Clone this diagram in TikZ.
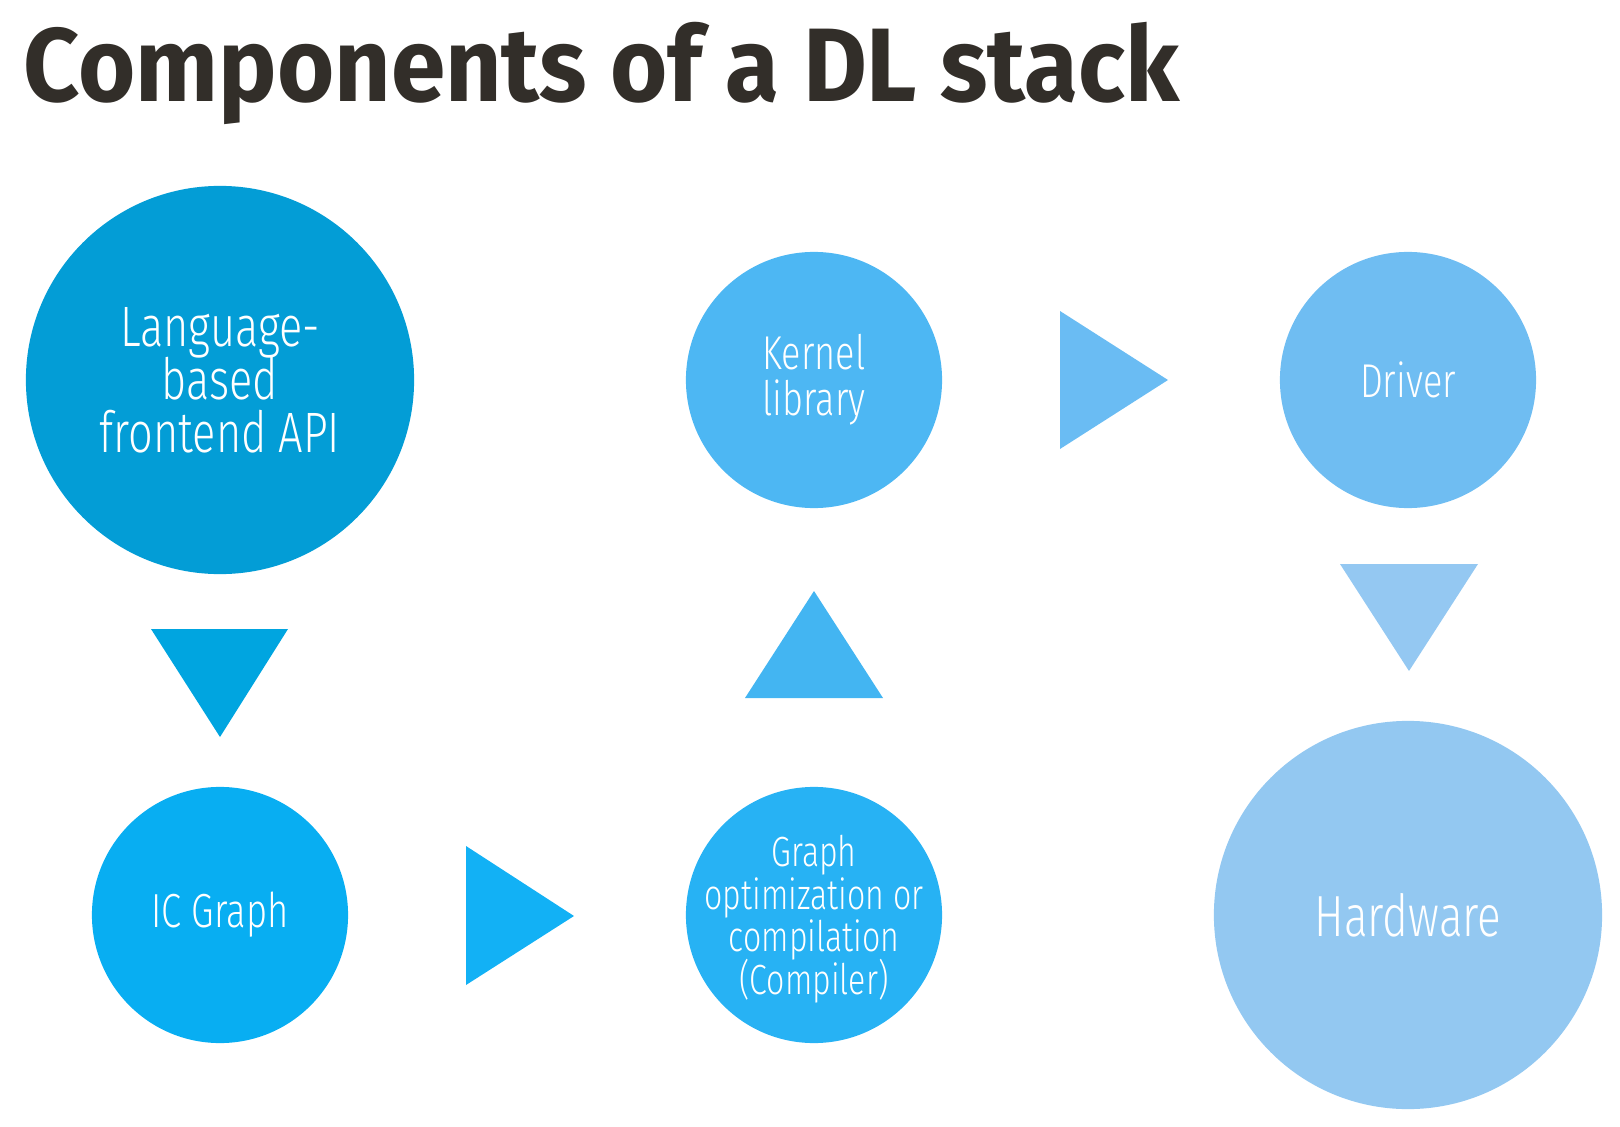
\documentclass[tikz,border=0pt]{standalone}
\usepackage{fontspec}
\setmainfont{Fira Sans}
\newfontfamily\thinsans{Fira Sans}[UprightFont=* Light, FakeStretch=0.76]
\newfontfamily\headsans{Fira Sans}[UprightFont=* Bold, FakeStretch=0.94]
\usepackage{xcolor}
\usetikzlibrary{arrows,shapes}

\definecolor{ink}{HTML}{322E29}
\definecolor{cApi}{HTML}{039DD6}
\definecolor{tApi}{HTML}{00A5E0}
\definecolor{cIc}{HTML}{08AEF2}
\definecolor{tIc}{HTML}{12B1F5}
\definecolor{cOpt}{HTML}{27B2F4}
\definecolor{tOpt}{HTML}{43B5F2}
\definecolor{cKer}{HTML}{4DB7F3}
\definecolor{tKer}{HTML}{6ABCF3}
\definecolor{cDrv}{HTML}{6FBDF2}
\definecolor{tDrv}{HTML}{94C8F2}
\definecolor{cHw}{HTML}{93C8F1}

\newcommand{\sz}[2]{\thinsans\fontsize{#1}{#2}\selectfont\lineskiplimit=-20pt}

\begin{document}
\begin{tikzpicture}[x=0.01cm, y=-0.01cm,
    bub/.style={circle, inner sep=0pt, minimum size=2.56cm},
    big/.style={bub, minimum size=3.88cm},
    lbl/.style={text=white, align=center, inner sep=0pt}]
    \useasboundingbox (0,0) rectangle (1620,1127);
    \node[anchor=base west, inner sep=0pt, text=ink] (title) at (23,101)
        {\headsans\fontsize{29.7}{30}\selectfont Components of a DL stack};
    % circles
    \node[big, fill=cApi, label={[lbl, font=\sz{16.2}{15.1}]center:Language-\\based\\frontend API}] (api) at (220,380) {};
    \node[bub, fill=cIc, label={[lbl, font=\sz{13.6}{13}]center:IC Graph}] (ic) at (220,915) {};
    \node[bub, fill=cOpt, label={[lbl, font=\sz{12}{12.1}, yshift=-0.04cm]center:Graph\\optimization or\\compilation\\(Compiler)}] (opt) at (814,915) {};
    \node[bub, fill=cKer, label={[lbl, font=\sz{13.5}{13.1}]center:Kernel\\library}] (ker) at (814,380) {};
    \node[bub, fill=cDrv, label={[lbl, font=\sz{13.5}{13}]center:Driver}] (drv) at (1408,380) {};
    \node[big, fill=cHw, label={[lbl, font=\sz{16.5}{15}]center:Hardware}] (hw) at (1408,915) {};
    % triangles
    \fill[tApi] (151,629) -- (288,629) -- (220,737) -- cycle;
    \fill[tIc] (466,846) -- (466,985) -- (574,916) -- cycle;
    \fill[tOpt] (745,698) -- (883,698) -- (814,591) -- cycle;
    \fill[tKer] (1060,311) -- (1060,449) -- (1168,380) -- cycle;
    \fill[tDrv] (1340,564) -- (1478,564) -- (1409,671) -- cycle;
\end{tikzpicture}
\end{document}
